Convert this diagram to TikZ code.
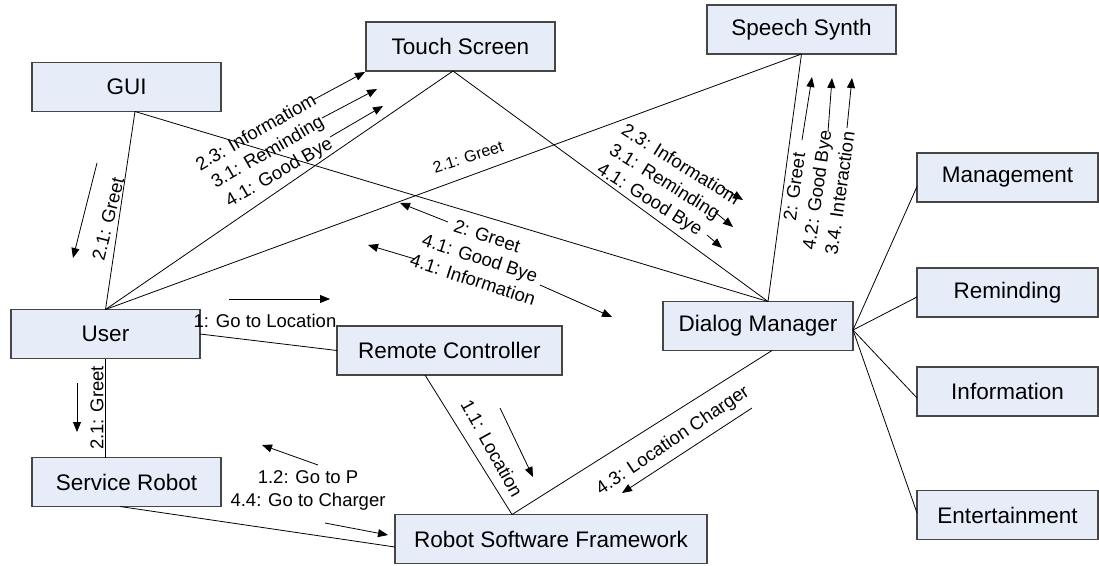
\documentclass[tikz,border=0pt]{standalone}
\usepackage{fontspec}
\setmainfont{Liberation Sans}
\usetikzlibrary{arrows.meta}

\definecolor{boxfill}{RGB}{231,237,248}
\definecolor{boxline}{RGB}{70,70,70}

\tikzset{
  obj/.style={draw=boxline, fill=boxfill, line width=1.1pt, minimum width=189pt,
    minimum height=49pt, inner sep=0pt, outer sep=0pt, font=\fontsize{22.5}{25}\selectfont},
  link/.style={line width=0.8pt},
  msg/.style={line width=0.8pt, -{Triangle[length=10pt,width=8pt]}},
  lbl/.style={font=\fontsize{18.5}{23}\selectfont, align=center, inner sep=0pt},
}

\begin{document}
\begin{tikzpicture}[x=1pt,y=-1pt]
  \useasboundingbox (0,0) rectangle (1099,565);

  % objects
  \node[obj] (gui) at (126.5,87) {GUI};
  \node[obj] (ts) at (460.5,46.5) {Touch Screen};
  \node[obj] (ss) at (801.5,29.5) {Speech Synth};
  \node[obj] (user) at (105.5,334) {User};
  \node[obj, minimum width=225pt] (rc) at (449.5,350.5) {Remote Controller};
  \node[obj] (sr) at (126.5,482) {Service Robot};
  \node[obj, minimum width=312pt] (rsf) at (551,539) {Robot Software Framework};
  \node[obj, minimum width=190pt] (dm) at (758,326) {Dialog Manager};
  \node[obj, minimum width=181pt] (mg) at (1007.5,177.5) {Management};
  \node[obj, minimum width=181pt] (rm) at (1007.5,292.5) {Reminding};
  \node[obj, minimum width=181pt] (inf) at (1007.5,391.5) {Information};
  \node[obj, minimum width=181pt] (ent) at (1007.5,515) {Entertainment};

  % attachment points
  \coordinate (guib) at ([xshift=8.5pt]gui.south);
  \coordinate (tsb) at ([xshift=-7.5pt]ts.south);
  \coordinate (dmt) at ([xshift=10pt]dm.north);
  \coordinate (dmb) at ([xshift=14pt]dm.south);
  \coordinate (dmr) at ([yshift=-4pt]dm.east);
  \coordinate (rsft) at ([xshift=-39pt]rsf.north);

  % links
  \draw[link] (guib) -- (user.north);
  \draw[link] (guib) -- (dmt);
  \draw[link] (tsb) -- (user.north);
  \draw[link] (tsb) -- (dmt);
  \draw[link] (ss.south) -- (user.north);
  \draw[link] (ss.south) -- (dmt);
  \draw[link] (user.east) -- (rc.west);
  \draw[link] (user.south) -- (user.south |- sr.north);
  \draw[link] ([xshift=-6.5pt]sr.south) -- ([yshift=-8pt]rsf.west);
  \draw[link] ([xshift=-24.5pt]rc.south) -- (rsft);
  \draw[link] (rsft) -- (dmb);
  \foreach \n/\s in {mg/-9,rm/-4.5,inf/-6.5,ent/2}
    \draw[link] (dmr) -- ([yshift=\s pt]\n.west);

  % messages
  \node[lbl, rotate=76] (m1) at (108,219) {2.1: Greet};
  \node[lbl, rotate=90] (m2) at (97,408) {2.1: Greet};
  \node[lbl] (m3) at (265,321) {1: Go to Location};
  \node[lbl, rotate=30] (m4) at (268,153) {2.3: Informatiom\\3.1: Reminding\\4.1: Good Bye};
  \node[lbl, rotate=-32, align=left] (m5) at (668,185) {2.3: Informatiom\\3.1: Reminding\\4.1: Good Bye};
  \node[lbl, rotate=82] (m6) at (817,190) {2: Greet\\4.2: Good Bye\\3.4. Interaction};
  \node[lbl, font=\fontsize{16}{19}\selectfont, rotate=18] (m7) at (468,157) {2.1: Greet};
  \node[lbl, rotate=-18] (m8) at (480,258) {2: Greet\\4.1: Good Bye\\4.1: Information};
  \node[lbl, rotate=-61] (m9) at (492,448) {1.1: Location};
  \node[lbl, rotate=34] (m10) at (673,441) {4.3: Location Charger};
  \node[lbl] (m11) at (308,490) {1.2: Go to P\\4.4: Go to Charger};

  % message arrows
  \foreach \i/\a/\b in {1/{97,163}/{73,258}, 2/{77,383}/{77,432}, 3/{229,299}/{330,299},
      4/{313,100}/{365,72}, 5/{322,118}/{377,89}, 6/{330,137}/{383,106},
      7/{722,187}/{743,200}, 8/{715,212}/{733,227}, 9/{707,235}/{722,248},
      10/{802,140}/{812,77}, 11/{828,132}/{832,78}, 12/{847,128}/{852,78},
      13/{448,222}/{400,203}, 14/{415,259}/{368,245}, 15/{540,285}/{612,317},
      16/{500,408}/{533,477}, 17/{752,408}/{622,493},
      18/{318,465}/{262,445}, 19/{325,523}/{388,535}} {
    \coordinate (s\i) at (\a);
    \coordinate (e\i) at (\b);
    \draw[msg] (s\i) -- (e\i);
  }
\end{tikzpicture}
\end{document}
